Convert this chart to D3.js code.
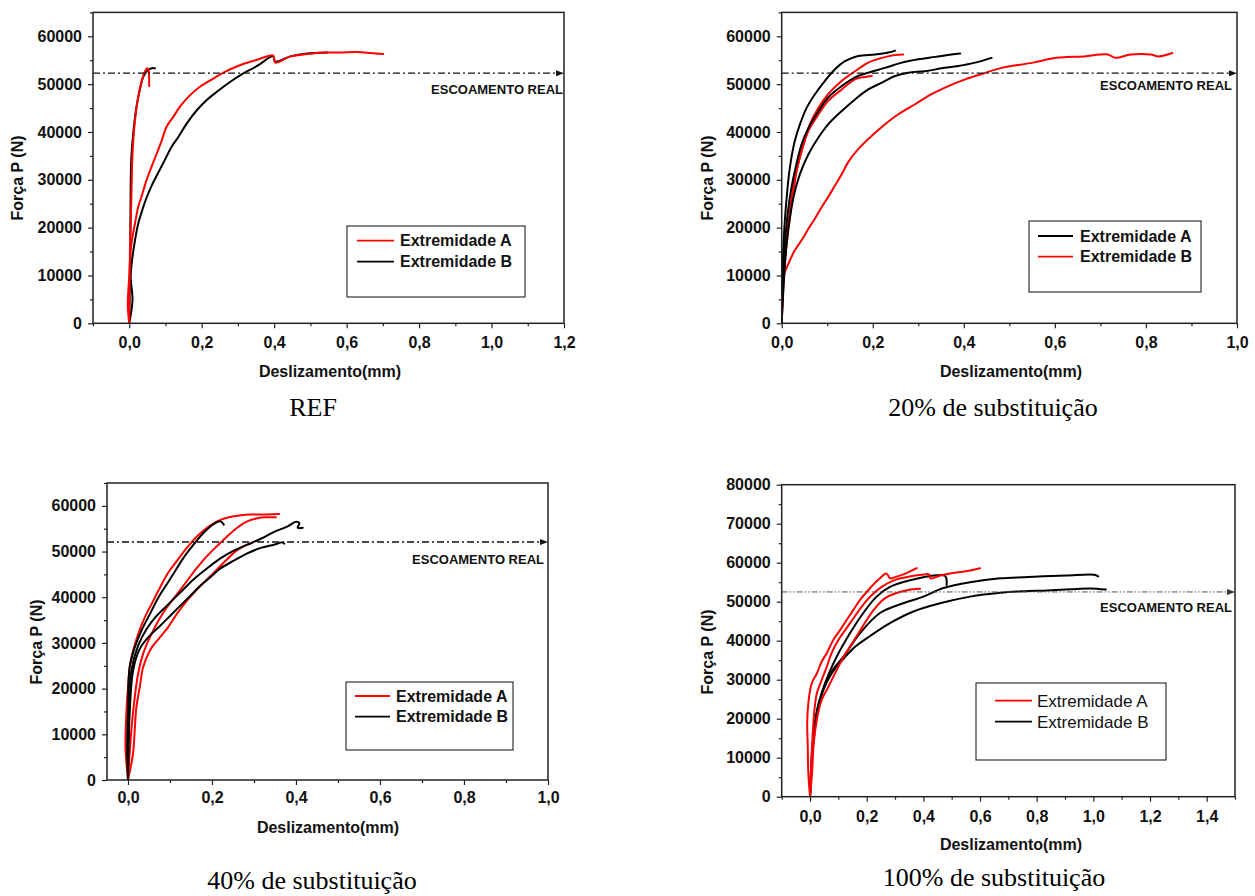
<!DOCTYPE html>
<html><head><meta charset="utf-8">
<script src="https://cdn.jsdelivr.net/npm/d3@7"></script>
<style>body{margin:0;background:#fff} svg{display:block}</style>
</head><body><svg id="c" width="1255" height="896"></svg>
<script>
// ---------------- DATA (Deslizamento mm, Força N) ----------------
const legendLabels = ["Extremidade A", "Extremidade B"];
const yieldForce = [52300, 52300, 52100, 52500]; // "ESCOAMENTO REAL"
const captions = ["REF", "20% de substituição", "40% de substituição", "100% de substituição"];

// REF
const refA1 = [[0,0],[0.002,15300],[0.006,26500],[0.009,35500],[0.016,42500],[0.025,47400],[0.034,50500],[0.043,52600],[0.050,53300],[0.053,53000],[0.055,49600]];
const refA2 = [[0,0],[-0.004,3800],[0,9760],[0.004,15300],[0.009,18100],[0.016,20900],[0.025,24400],[0.034,26500],[0.048,30000],[0.062,32800],[0.076,35500],[0.090,38300],[0.103,41100],[0.122,43200],[0.140,45300],[0.168,47700],[0.196,49500],[0.233,51200],[0.260,52400],[0.307,54000],[0.353,55100],[0.397,56000],[0.403,54500],[0.445,55800],[0.491,56300],[0.537,56600],[0.584,56600],[0.630,56700],[0.667,56500],[0.701,56300]];
const refB1 = [[0,0],[0.002,9760],[0.003,16700],[0.004,29300],[0.006,34800],[0.011,39700],[0.020,45300],[0.030,49100],[0.039,51600],[0.053,53000],[0.066,53400],[0.071,53300]];
const refB2 = [[0,0],[0.009,4900],[0.004,9760],[0.009,13900],[0.016,17400],[0.025,20900],[0.034,23200],[0.048,26300],[0.062,28800],[0.076,30900],[0.094,33500],[0.117,36900],[0.136,39000],[0.159,41800],[0.187,44600],[0.214,46700],[0.242,48400],[0.279,50500],[0.307,51900],[0.353,53800],[0.397,55800],[0.403,54700],[0.445,55800],[0.491,56400],[0.547,56600]];

// 20%
const p20A1 = [[0,0],[0.004,16700],[0.011,26400],[0.018,32600],[0.029,38200],[0.040,41600],[0.055,45100],[0.073,47900],[0.095,50700],[0.117,53100],[0.139,54800],[0.168,55900],[0.205,56200],[0.234,56600],[0.249,57000]];
const p20A2 = [[0,0],[0.007,16700],[0.018,26400],[0.029,31900],[0.044,37500],[0.059,40900],[0.081,44400],[0.102,47200],[0.132,49600],[0.161,51400],[0.190,52400],[0.227,53400],[0.264,54500],[0.300,55200],[0.337,55700],[0.373,56200],[0.392,56400]];
const p20A3 = [[0,0],[0.011,16700],[0.026,26400],[0.040,31200],[0.059,35400],[0.081,38900],[0.102,41600],[0.132,44400],[0.161,46800],[0.190,48900],[0.220,50300],[0.249,51700],[0.278,52400],[0.315,52700],[0.351,53300],[0.388,53800],[0.425,54500],[0.461,55500]];
const p20B1 = [[0,0],[0.004,9700],[0.011,16700],[0.022,25000],[0.033,31900],[0.048,37500],[0.062,41600],[0.081,45100],[0.102,47900],[0.132,50700],[0.161,52700],[0.190,54500],[0.220,55500],[0.249,56100],[0.267,56200]];
const p20B2 = [[0,0],[0.007,13200],[0.018,23600],[0.029,30500],[0.044,36100],[0.059,40300],[0.081,43700],[0.102,46500],[0.132,48900],[0.161,51000],[0.183,51500],[0.198,51700]];
const p20B3 = [[0,0],[0.004,9700],[0.015,12500],[0.029,15300],[0.044,17400],[0.059,19800],[0.073,21900],[0.088,24300],[0.102,26400],[0.117,28800],[0.132,31200],[0.146,33700],[0.168,36400],[0.198,39200],[0.227,41600],[0.256,43700],[0.293,45800],[0.329,47900],[0.366,49600],[0.403,51000],[0.439,52100],[0.483,53400],[0.552,54500],[0.603,55500],[0.664,55800],[0.716,56200],[0.733,55500],[0.767,56200],[0.810,56200],[0.828,55800],[0.858,56500]];

// 40%
const p40A1 = [[0,0],[-0.006,7300],[-0.004,14500],[0,20300],[0.004,24700],[0.012,28300],[0.024,31900],[0.040,35600],[0.060,39200],[0.080,42800],[0.096,45400],[0.116,47900],[0.140,50800],[0.164,53300],[0.188,55200],[0.212,56600],[0.252,57700],[0.292,58100],[0.332,58100],[0.360,58200]];
const p40A2 = [[0,0],[0.008,10900],[0.016,18100],[0.024,23200],[0.036,27600],[0.052,31200],[0.072,34800],[0.092,37700],[0.116,40600],[0.140,43500],[0.164,46400],[0.188,49000],[0.212,51200],[0.236,53300],[0.260,55200],[0.284,56600],[0.308,57300],[0.332,57500],[0.352,57500]];
const p40A3 = [[0,0],[0.012,5800],[0.016,10900],[0.020,16000],[0.028,20300],[0.036,24700],[0.052,28300],[0.072,30800],[0.092,33000],[0.116,36300],[0.140,39200],[0.164,41700],[0.188,43900],[0.212,46100],[0.236,48300],[0.260,50300],[0.284,51500],[0.296,51900]];
const p40B1 = [[0,0],[-0.002,7300],[0,14500],[0.004,24700],[0.016,29000],[0.032,32700],[0.052,36300],[0.072,39900],[0.092,42800],[0.112,45700],[0.132,48600],[0.156,51500],[0.180,54100],[0.204,56000],[0.220,56600],[0.228,55900]];
const p40B2 = [[0,0],[0.002,14500],[0.008,23900],[0.024,29400],[0.044,33000],[0.068,35900],[0.092,38100],[0.124,41000],[0.156,43900],[0.188,46300],[0.220,48500],[0.252,50200],[0.284,51500],[0.316,52800],[0.348,54300],[0.380,55500],[0.400,56500],[0.408,56200],[0.404,55200],[0.416,55200]];
const p40B3 = [[0,0],[0.004,14500],[0.012,23900],[0.028,28700],[0.052,31600],[0.076,33700],[0.100,35900],[0.124,38100],[0.148,40300],[0.172,42500],[0.196,44400],[0.220,46300],[0.252,48000],[0.284,49600],[0.316,50800],[0.348,51500],[0.368,52000],[0.372,51700]];

// 100%
const p100A1 = [[0,0],[-0.006,6000],[-0.008,12800],[-0.010,19000],[-0.006,24000],[0.006,29100],[0.024,31600],[0.041,34600],[0.059,36800],[0.082,40200],[0.106,42700],[0.129,45300],[0.153,47900],[0.176,50400],[0.206,53000],[0.241,55600],[0.270,57200],[0.282,56000],[0.300,56300],[0.330,57000],[0.360,58000],[0.377,58600]];
const p100A2 = [[0,0],[0.004,8000],[0.008,14000],[0.014,21000],[0.024,26500],[0.041,29900],[0.059,33300],[0.076,36800],[0.100,40200],[0.124,42700],[0.153,45700],[0.182,48700],[0.218,51700],[0.253,53800],[0.300,55600],[0.347,56400],[0.394,56900],[0.420,57000],[0.425,56000],[0.460,56700],[0.500,57300],[0.550,57800],[0.600,58600]];
const p100A3 = [[0,0],[0.008,7000],[0.012,12800],[0.024,19700],[0.041,24800],[0.065,28200],[0.088,31600],[0.112,35000],[0.141,38500],[0.171,41900],[0.200,45300],[0.229,48300],[0.265,50900],[0.300,52100],[0.347,53000],[0.388,53300]];
const p100B1 = [[0,0],[0.004,8000],[0.011,15000],[0.025,22300],[0.045,27500],[0.066,31500],[0.094,35900],[0.141,41900],[0.188,47100],[0.235,51300],[0.282,53800],[0.365,55700],[0.424,56600],[0.477,56600],[0.482,54300]];
const p100B2 = [[0,0],[0.006,9000],[0.015,16000],[0.030,23000],[0.050,28000],[0.080,32500],[0.118,35900],[0.176,41900],[0.247,47100],[0.329,49600],[0.400,51300],[0.471,53500],[0.565,55000],[0.671,56000],[0.755,56300],[0.824,56500],[0.906,56700],[1.003,56900],[1.017,56500]];
const p100B3 = [[0,0],[0.008,11000],[0.018,18900],[0.035,25000],[0.060,29500],[0.090,33000],[0.120,35500],[0.160,38500],[0.212,41200],[0.282,44500],[0.365,47500],[0.459,49600],[0.565,51300],[0.671,52300],[0.755,52700],[0.837,52900],[0.920,53200],[0.989,53400],[1.044,53100]];

// tick values
const xTicksP1 = [0,0.2,0.4,0.6,0.8,1.0,1.2];
const xTicksP2 = [0,0.2,0.4,0.6,0.8,1.0];
const xTicksP3 = [0,0.2,0.4,0.6,0.8,1.0];
const xTicksP4 = [0,0.2,0.4,0.6,0.8,1.0,1.2,1.4];
const yTicks65 = [0,10000,20000,30000,40000,50000,60000];
const yTicks80 = [0,10000,20000,30000,40000,50000,60000,70000,80000];

// ---------------- LAYOUT ----------------
const RED = "#ff0000", BLK = "#000000";
const SANS = '"Liberation Sans",Arial,sans-serif', SERIF = '"Liberation Serif","Times New Roman",serif';
const panels = [
  {x0:93, x1:564, y0:12.4, y1:323.3, xd:[-0.1,1.2], yd:[0,65000], xt:xTicksP1, yt:yTicks65,
   series:[[refB1,BLK],[refB2,BLK],[refA2,RED],[refA1,RED]], legColors:[RED,BLK], legBold:true,
   leg:{x:347,y:226,w:178,h:71,l1:240.7,l2:261.7,lx0:357,lx1:394,tx:400},
   ytitle:[17,178], xtitle:[330,377], cap:[313,416], esc:{tx:563,ty:94,gray:false}, xpad:8.6, yield:yieldForce[0]},
  {x0:781.7, x1:1237, y0:12.4, y1:323.3, xd:[0,1], yd:[0,65000], xt:xTicksP2, yt:yTicks65,
   series:[[p20B3,RED],[p20B2,RED],[p20B1,RED],[p20A3,BLK],[p20A2,BLK],[p20A1,BLK]], legColors:[BLK,RED], legBold:true,
   leg:{x:1029,y:221,w:172,h:71,l1:236,l2:256.7,lx0:1038,lx1:1073,tx:1080},
   ytitle:[707,178], xtitle:[1011,377], cap:[993,416], esc:{tx:1232,ty:90,gray:false}, xpad:8.6, yield:yieldForce[1]},
  {x0:107, x1:548, y0:483, y1:780, xd:[-0.05,1.0], yd:[0,65000], xt:xTicksP3, yt:yTicks65,
   series:[[p40A3,RED],[p40A2,RED],[p40A1,RED],[p40B3,BLK],[p40B2,BLK],[p40B1,BLK]], legColors:[RED,BLK], legBold:true,
   leg:{x:346,y:682,w:167,h:68,l1:696,l2:716.7,lx0:355,lx1:390,tx:396},
   ytitle:[36,642], xtitle:[328,833], cap:[312,889], esc:{tx:544,ty:564,gray:false}, xpad:6.6, yield:yieldForce[2]},
  {x0:781.7, x1:1235, y0:484.7, y1:796.7, xd:[-0.1,1.5], yd:[0,80000], xt:xTicksP4, yt:yTicks80,
   series:[[p100B3,BLK],[p100B2,BLK],[p100B1,BLK],[p100A3,RED],[p100A2,RED],[p100A1,RED]], legColors:[RED,BLK], legBold:false,
   leg:{x:976,y:683,w:190,h:77,l1:700.7,l2:721.7,lx0:995,lx1:1032,tx:1037},
   ytitle:[707,652], xtitle:[1011,850], cap:[994,886], esc:{tx:1232,ty:612,gray:true}, xpad:8.6, yield:yieldForce[3]}
];

const svg = d3.select("#c");
const fmtX = d => d3.format(".1f")(d).replace(".", ",");

panels.forEach((p, i) => {
  const x = d3.scaleLinear().domain(p.xd).range([p.x0, p.x1]);
  const y = d3.scaleLinear().domain(p.yd).range([p.y1, p.y0]);
  const g = svg.append("g");
  const cid = "clip" + i;
  g.append("clipPath").attr("id", cid).append("rect")
    .attr("x", p.x0).attr("y", p.y0).attr("width", p.x1 - p.x0).attr("height", p.y1 - p.y0);

  // minor ticks
  const xMinor = d3.range(Math.round(p.xd[0]*10), Math.round(p.xd[1]*10)+1).map(v => v/10).filter(v => !p.xt.some(t => Math.abs(t-v) < 1e-9));
  const yMinor = d3.range(p.yd[0], p.yd[1]+1, 5000).filter(v => v % 10000 !== 0);
  g.append("g").attr("transform", `translate(0,${p.y1})`)
    .call(d3.axisBottom(x).tickValues(xMinor).tickSize(3).tickFormat(""))
    .call(a => a.select(".domain").remove());
  g.append("g").attr("transform", `translate(${p.x0},0)`)
    .call(d3.axisLeft(y).tickValues(yMinor).tickSize(3).tickFormat(""))
    .call(a => a.select(".domain").remove());
  // major ticks
  const xa = g.append("g").attr("transform", `translate(0,${p.y1})`)
    .call(d3.axisBottom(x).tickValues(p.xt).tickSize(5).tickPadding(p.xpad).tickFormat(fmtX));
  xa.select(".domain").remove();
  const ya = g.append("g").attr("transform", `translate(${p.x0},0)`)
    .call(d3.axisLeft(y).tickValues(p.yt).tickSize(5).tickPadding(6).tickFormat(d3.format("d")));
  ya.select(".domain").remove();
  [xa, ya].forEach(a => a.selectAll("text").style("font-family", SANS)
    .style("font-size", "16px").style("font-weight", "bold").attr("fill", "#111"));
  g.selectAll(".tick line").attr("stroke", "#222").attr("stroke-width", 1.2);

  // curves
  const line = d3.line().x(d => x(d[0])).y(d => y(d[1])).curve(d3.curveCatmullRom.alpha(0.5));
  const cg = g.append("g").attr("clip-path", `url(#${cid})`);
  p.series.forEach(([data, col]) => {
    cg.append("path").datum(data).attr("d", line).attr("fill", "none")
      .attr("stroke", col).attr("stroke-width", 2).attr("stroke-linejoin", "round").attr("stroke-linecap", "round");
  });

  // yield line
  const yy = y(p.yield);
  g.append("line").attr("x1", p.x0).attr("x2", p.x1 - 6).attr("y1", yy).attr("y2", yy)
    .attr("stroke", p.esc.gray ? "#555" : "#111").attr("stroke-width", p.esc.gray ? 1 : 1.4)
    .attr("stroke-dasharray", p.esc.gray ? "6,2,1.5,2,1.5,2" : "7,3,2,3");
  g.append("path").attr("d", `M${p.x1-8},${yy-3}L${p.x1},${yy}L${p.x1-8},${yy+3}Z`).attr("fill", p.esc.gray ? "#333" : "#111");
  g.append("text").attr("x", p.esc.tx).attr("y", p.esc.ty).attr("text-anchor", "end")
    .style("font-family", SANS).style("font-size", "13px").style("font-weight", "bold")
    .attr("fill", "#111").text("ESCOAMENTO REAL");

  // frame
  g.append("rect").attr("x", p.x0).attr("y", p.y0).attr("width", p.x1 - p.x0).attr("height", p.y1 - p.y0)
    .attr("fill", "none").attr("stroke", "#222").attr("stroke-width", 1.5);

  // legend
  const L = p.leg;
  g.append("rect").attr("x", L.x).attr("y", L.y).attr("width", L.w).attr("height", L.h)
    .attr("fill", "#fff").attr("stroke", "#333").attr("stroke-width", 1.2);
  [L.l1, L.l2].forEach((ly, k) => {
    g.append("line").attr("x1", L.lx0).attr("x2", L.lx1).attr("y1", ly).attr("y2", ly)
      .attr("stroke", p.legColors[k]).attr("stroke-width", 1.8);
    g.append("text").attr("x", L.tx).attr("y", ly).attr("dy", "0.36em")
      .style("font-family", SANS).style("font-size", p.legBold ? "16px" : "17px")
      .style("font-weight", p.legBold ? "bold" : "normal")
      .attr("fill", "#111").text(legendLabels[k]);
  });

  // titles
  g.append("text").attr("transform", `translate(${p.ytitle[0]},${p.ytitle[1]}) rotate(-90)`)
    .attr("text-anchor", "middle").attr("dy", "0.36em")
    .style("font-family", SANS).style("font-size", "16px").style("font-weight", "bold")
    .attr("fill", "#111").text("Força P (N)");
  g.append("text").attr("x", p.xtitle[0]).attr("y", p.xtitle[1]).attr("text-anchor", "middle")
    .style("font-family", SANS).style("font-size", "16px").style("font-weight", "bold")
    .attr("fill", "#111").text("Deslizamento(mm)");
  g.append("text").attr("x", p.cap[0]).attr("y", p.cap[1]).attr("text-anchor", "middle")
    .style("font-family", SERIF).style("font-size", "26px")
    .attr("fill", "#000").text(captions[i]);
});
</script></body></html>
